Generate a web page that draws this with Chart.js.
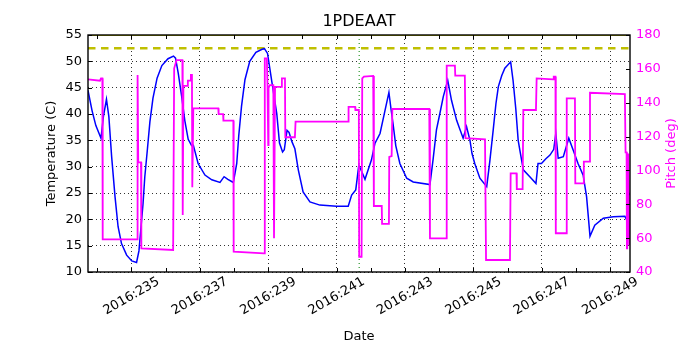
<!DOCTYPE html>
<html><head><meta charset="utf-8">
<script src="https://cdn.jsdelivr.net/npm/chart.js@4"></script>
<style>html,body{margin:0;padding:0;background:#fff}canvas{display:block}</style>
</head><body>
<canvas id="c" width="700" height="350"></canvas>
<script>
const chartTitle = '1PDEAAT';
const xTitle = 'Date';
const yLeftTitle = 'Temperature (C)';
const yRightTitle = 'Pitch (deg)';
const yearPrefix = '2016:';
const dayRange = [233.73, 249.58];
const tempRange = [10, 55];
const pitchRange = [40, 180];
const planLimit = 52.5;
const hardLimit = 55;
const eventDay = 241.66;

const tempDays = [233.73,233.85,233.96,234.11,234.18,234.27,234.34,234.42,234.52,234.61,
234.71,234.86,235.01,235.15,235.22,235.28,235.34,235.39,235.47,235.54,
235.63,235.75,235.89,236.07,236.23,236.29,236.37,236.47,236.56,236.66,
236.76,236.81,236.95,237.15,237.35,237.59,237.71,237.82,237.98,238.08,
238.14,238.22,238.32,238.46,238.64,238.82,238.89,238.98,239.10,239.25,
239.33,239.42,239.47,239.55,239.61,239.69,239.78,239.88,240.02,240.22,
240.51,241.00,241.34,241.44,241.56,241.65,241.74,241.83,242.02,242.12,
242.27,242.41,242.53,242.59,242.65,242.73,242.85,243.05,243.24,243.73,
243.82,243.92,244.02,244.12,244.25,244.36,244.51,244.61,244.70,244.80,
244.90,244.96,245.04,245.19,245.39,245.48,245.58,245.66,245.73,245.83,
245.92,246.09,246.16,246.24,246.31,246.36,246.46,246.65,246.83,246.89,
246.99,247.12,247.24,247.35,247.41,247.48,247.63,247.79,247.92,248.06,
248.21,248.31,248.41,248.55,248.80,249.09,249.43,249.48,249.53,249.58];
const tempValues = [44.5,40.6,37.8,35.4,39.5,42.8,39.5,32,24.3,18.6,
15.4,13.2,12.1,11.8,14,18.5,23,28,33.5,38.5,
43,46.8,49.2,50.5,51,50.6,47.7,43.3,38.8,35.2,
34,34.1,30.6,28.4,27.5,27,28.1,27.6,27,30.6,
36,41.5,46.5,50,51.7,52.3,52.4,51.5,46.4,40.1,
34.5,32.8,33.2,36.9,36.5,34.8,33.4,29.4,25.2,23.3,
22.7,22.5,22.5,24.6,25.6,30.3,29,27.6,31.3,34.4,
36.3,40.5,44.1,41,38.2,34,30.6,27.8,27.1,26.6,
31.3,37,40.1,43.3,46.4,42.6,38.8,37,35.4,37.6,
35,32.5,30.6,27.8,26.2,31,37,42,45.2,47.3,
48.7,49.9,46.4,41,35,33.1,29.4,28.1,26.8,30.6,
30.6,31.5,32.2,33.3,36.3,31.6,31.9,35.4,33.1,30.6,
28.4,24.3,16.8,18.9,20.2,20.5,20.6,19.9,24.5,25];

const pitchDays = [233.73,234.08,234.11,234.15,234.16,235.17,235.18,235.20,235.28,235.29,
236.22,236.25,236.32,236.49,236.50,236.52,236.64,236.65,236.73,236.74,
236.77,236.78,236.81,237.54,237.55,237.68,237.69,237.98,237.99,238.88,
238.90,238.96,238.98,239.00,239.01,239.05,239.15,239.17,239.19,239.20,
239.39,239.40,239.49,239.50,239.78,239.80,241.34,241.35,241.54,241.55,
241.65,241.66,241.73,241.75,241.80,242.07,242.09,242.32,242.33,242.53,
242.54,242.61,242.63,243.71,243.73,244.20,244.22,244.46,244.47,244.75,
244.77,245.34,245.37,246.07,246.09,246.26,246.27,246.44,246.46,246.83,
246.85,247.33,247.35,247.40,247.41,247.71,247.73,247.97,247.98,248.21,
248.23,248.39,248.41,249.43,249.45,249.48,249.49,249.50,249.53,249.56];
const pitchValues = [153.8,153.0,154.4,154.4,59.3,59.3,156.4,104.8,104.8,54,
53,160.3,165.2,165.2,73.7,150,150,153,153,156.4,
156.4,90,136.7,136.7,133.3,133.3,129.4,129.4,52,51,
166.2,166.2,150,115,148.7,150.4,150.4,59.9,59.9,149.4,
149.4,154.4,154.4,119.6,119.6,128.8,128.8,137.6,137.6,135.7,
135.7,49,49,154.4,155.4,155.8,79,79,68.4,68.4,
108,108.5,136.3,136.3,59.9,59.9,161.9,161.9,156,156,
119,118.4,47.1,47.1,98.3,98.3,89,89,135.7,135.7,
154.4,153.8,155.4,155.4,62.9,62.9,142.6,142.6,92.4,92.4,
105.2,105.2,145.9,145.1,110.7,110.7,54,54,110,56];

const tempPoints = tempDays.map((d, i) => ({x: d, y: tempValues[i]}));
const pitchPoints = pitchDays.map((d, i) => ({x: d, y: pitchValues[i]}));

Chart.defaults.font.family = "'DejaVu Sans', sans-serif";
Chart.defaults.color = '#000';

const MAGENTA = '#ff00ff';
const GRID = 'rgba(0,0,0,0.8)';

const framePlugin = {
  id: 'frame',
  afterDatasetsDraw(chart) {
    const {ctx, chartArea: {left, top, right, bottom}, scales} = chart;
    ctx.save();
    ctx.strokeStyle = '#000';
    ctx.lineWidth = 1;
    ctx.beginPath();
    scales.x.ticks.forEach(t => {
      const px = Math.round(scales.x.getPixelForValue(t.value)) + 0.5;
      ctx.moveTo(px, bottom); ctx.lineTo(px, bottom - 4);
      ctx.moveTo(px, top); ctx.lineTo(px, top + 4);
    });
    scales.y.ticks.forEach(t => {
      const py = Math.round(scales.y.getPixelForValue(t.value)) + 0.5;
      ctx.moveTo(left, py); ctx.lineTo(left + 4, py);
    });
    scales.y2.ticks.forEach(t => {
      const py = Math.round(scales.y2.getPixelForValue(t.value)) + 0.5;
      ctx.moveTo(right, py); ctx.lineTo(right - 4, py);
    });
    ctx.stroke();
    ctx.lineWidth = 1.4;
    ctx.strokeRect(left, top, right - left, bottom - top);
    ctx.fillStyle = MAGENTA;
    ctx.font = "13px 'DejaVu Sans', sans-serif";
    ctx.textAlign = 'center';
    ctx.textBaseline = 'middle';
    ctx.translate(672, (top + bottom) / 2);
    ctx.rotate(-Math.PI / 2);
    ctx.fillText(yRightTitle, 0, 0);
    ctx.restore();
  }
};

new Chart(document.getElementById('c'), {
  type: 'line',
  data: {
    datasets: [
      {label: 'Pitch', data: pitchPoints, yAxisID: 'y2', borderColor: MAGENTA, borderWidth: 1.8, pointRadius: 0, tension: 0, order: 0},
      {label: 'Temperature', data: tempPoints, yAxisID: 'y', borderColor: '#0000ff', borderWidth: 1.5, pointRadius: 0, tension: 0, order: 1},
      {label: 'Planning limit', data: [{x: dayRange[0], y: planLimit}, {x: dayRange[1], y: planLimit}], yAxisID: 'y', borderColor: '#bfbf00', borderWidth: 2.5, borderDash: [7.5, 5.5], pointRadius: 0, order: 2},
      {label: 'Limit', data: [{x: dayRange[0], y: hardLimit}, {x: dayRange[1], y: hardLimit}], yAxisID: 'y', borderColor: '#bfbf00', borderWidth: 2, pointRadius: 0, order: 3},
      {label: 'Event', data: [{x: eventDay, y: tempRange[0]}, {x: eventDay, y: tempRange[1]}], yAxisID: 'y', borderColor: '#008000', borderWidth: 1, borderDash: [1, 3], pointRadius: 0, order: 4}
    ]
  },
  options: {
    responsive: false,
    animation: false,
    events: [],
    layout: {padding: 0},
    plugins: {
      legend: {display: false},
      tooltip: {enabled: false},
      title: {display: true, text: chartTitle, fullSize: false, font: {size: 16, weight: 'normal'}, color: '#000', padding: {top: 12, bottom: 3.8}}
    },
    scales: {
      x: {
        type: 'linear', position: 'bottom', min: dayRange[0], max: dayRange[1],
        ticks: {
          stepSize: 1, includeBounds: false, autoSkip: false, maxTicksLimit: 40,
          minRotation: 30, maxRotation: 30, labelOffset: 27, padding: 2,
          font: {size: 13}, color: '#000',
          callback: v => { const r = Math.round(v); return (Math.abs(v - r) < 1e-6 && Math.abs(r % 2) === 1) ? yearPrefix + r : ''; }
        },
        grid: {drawTicks: false, lineWidth: 1, color: c => (c.tick && Math.abs(Math.round(c.tick.value) % 2) === 1) ? GRID : 'rgba(0,0,0,0)'},
        border: {display: false, dash: [1, 3]},
        title: {display: true, text: xTitle, font: {size: 13}, padding: {top: 0, bottom: 6}},
        afterFit: s => { s.height = 78; }
      },
      y: {
        type: 'linear', position: 'left', min: tempRange[0], max: tempRange[1],
        ticks: {stepSize: 5, padding: 6, font: {size: 13}, color: '#000'},
        grid: {drawTicks: false, lineWidth: 1, color: GRID},
        border: {display: false, dash: [1, 3]},
        title: {display: true, text: yLeftTitle, font: {size: 13}, padding: {top: 44, bottom: 0}},
        afterFit: s => { s.width = 88; }
      },
      y2: {
        type: 'linear', position: 'right', min: pitchRange[0], max: pitchRange[1],
        ticks: {stepSize: 20, padding: 6, font: {size: 13}, color: MAGENTA},
        grid: {display: false, drawTicks: false},
        border: {display: false},
        afterFit: s => { s.width = 70; }
      }
    }
  },
  plugins: [framePlugin]
});
</script>
</body></html>
